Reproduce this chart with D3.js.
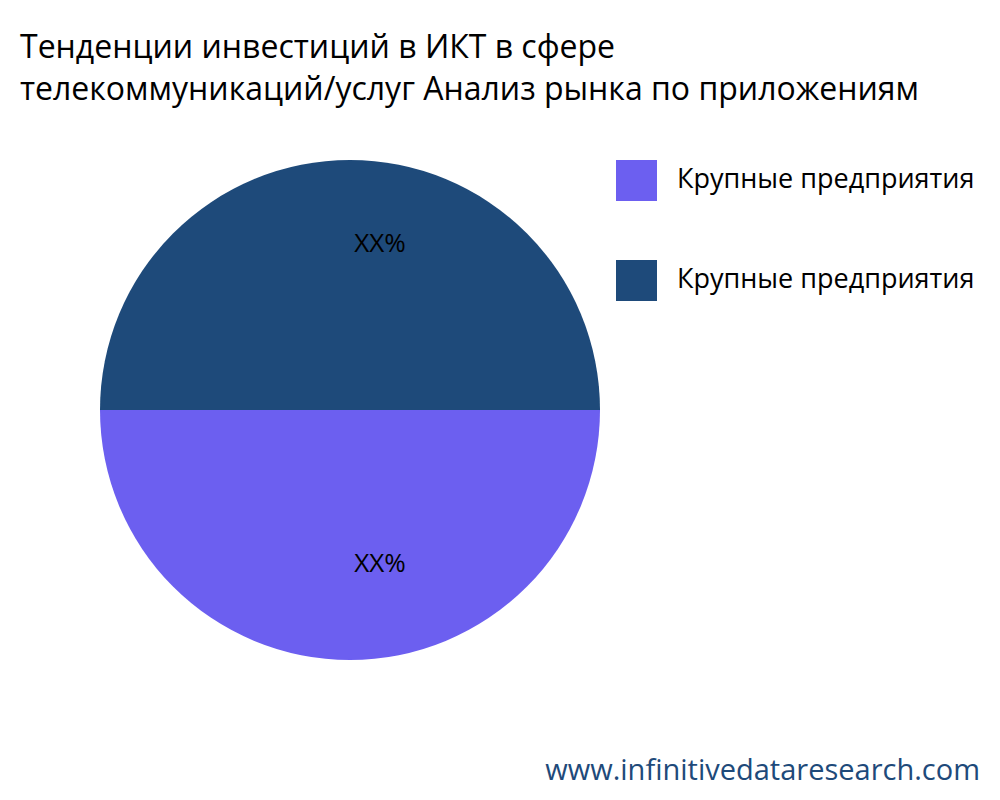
<!DOCTYPE html>
<html><head><meta charset="utf-8">
<script src="https://cdn.jsdelivr.net/npm/d3@7"></script>
<style>body{margin:0;background:#fff}svg{font-family:"Open Sans",sans-serif}</style>
</head><body><svg id="c" width="1000" height="800"></svg>
<script>
const categories = ["Крупные предприятия", "Крупные предприятия"];
const values = [50, 50];
const labels = ["XX%", "XX%"];
const colors = ["#6c5ff0", "#1e4a7a"];
const titleLines = ["Тенденции инвестиций в ИКТ в сфере", "телекоммуникаций/услуг Анализ рынка по приложениям"];

const svg = d3.select("#c");
svg.append("rect").attr("width",1000).attr("height",800).attr("fill","#fff");
const cx = 350, cy = 410, R = 250;
const pie = d3.pie().sort(null).startAngle(Math.PI/2).endAngle(Math.PI*2.5)(values);
const arc = d3.arc().innerRadius(0).outerRadius(R);
const g = svg.append("g").attr("transform",`translate(${cx},${cy})`);
g.selectAll("path").data(pie).join("path").attr("d",arc).attr("fill",(d,i)=>colors[i]);
const la = d3.arc().innerRadius(R*0.66).outerRadius(R*0.66);
g.selectAll("text").data(pie).join("text")
  .attr("x",d=>la.centroid(d)[0]+30).attr("y",d=>la.centroid(d)[1]+(d.index===0?-10:0))
  .attr("text-anchor","middle").attr("dominant-baseline","middle")
  .attr("font-size",26).attr("fill","#000").text((d,i)=>labels[i]);

svg.selectAll("text.t").data(titleLines).join("text").attr("class","t")
  .attr("x",20).attr("y",(d,i)=>58+i*42).attr("font-size",32).attr("fill","#000").text(d=>d);

const lg = svg.append("g");
categories.forEach((c,i)=>{
  lg.append("rect").attr("x",616).attr("y",160+i*100).attr("width",41).attr("height",41).attr("fill",colors[i]);
  lg.append("text").attr("x",677).attr("y",181+i*100).attr("dominant-baseline","middle").attr("font-size",27).attr("fill","#000").text(c);
});
svg.append("text").attr("x",980).attr("y",780).attr("text-anchor","end").attr("font-size",29).attr("fill","#1e4a7a").text("www.infinitivedataresearch.com");
</script></body></html>
